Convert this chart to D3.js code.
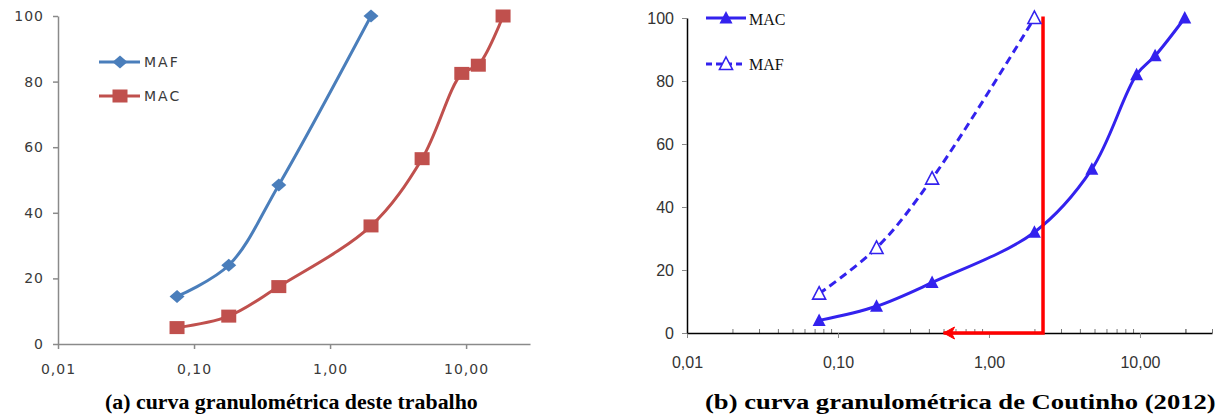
<!DOCTYPE html>
<html>
<head>
<meta charset="utf-8">
<script src="https://cdn.jsdelivr.net/npm/d3@7"></script>
<style>
  body { margin: 0; background: #fff; }
  svg { display: block; }
</style>
</head>
<body>
<svg id="chart" width="1228" height="414"></svg>
<script>
// --- data ---
// (a) this work
const mafA_x = [0.075, 0.18, 0.42, 2.0];
const mafA_y = [14.5, 24, 48.5, 100];
const macA_x = [0.075, 0.18, 0.42, 2.0, 4.75, 9.3, 12.3, 18.7];
const macA_y = [5, 8.5, 17.5, 36, 56.5, 82.5, 85, 100];
// (b) Coutinho (2012)
const macB_x = [0.075, 0.18, 0.42, 2.0, 4.8, 9.5, 12.6, 19.8];
const macB_y = [4, 8.5, 16, 32, 52, 82, 88, 100];
const mafB_x = [0.075, 0.18, 0.42, 2.0];
const mafB_y = [12.5, 27, 49, 100];
// red guide: vertical at d ~ 2.3 mm, arrow back to ~0.5 mm
const guide_x = [2.28, 2.28, 0.5];
const guide_y = [100.5, 0, 0];

const xTicks = [0.01, 0.1, 1, 10];
const yTicks = [0, 20, 40, 60, 80, 100];
const captionA = '(a) curva granulométrica deste trabalho';
const captionB = '(b) curva granulométrica de Coutinho (2012)';

const fmt = d => d3.format('.2f')(d).replace('.', ',');
const zip = (xs, ys) => xs.map((x, i) => [x, ys[i]]);

const svg = d3.select('#chart');

// ================= panel (a) =================
const xA = d3.scaleLog().domain([0.01, 29.5]).range([58, 530]);
const yA = d3.scaleLinear().domain([0, 100]).range([344, 16]);
const gA = svg.append('g');
const axisGrey = '#8a8a8a';
const blueA = '#4a7ebb';
const redA = '#c0504d';

const xAxisA = gA.append('g')
  .attr('transform', `translate(0,${yA(0)})`)
  .call(d3.axisBottom(xA).tickValues(xTicks).tickFormat(fmt).tickSize(5).tickSizeOuter(0));
const yAxisA = gA.append('g')
  .attr('transform', `translate(${xA(0.01)},0)`)
  .call(d3.axisLeft(yA).tickValues(yTicks).tickFormat(d3.format('d')).tickSize(5).tickSizeOuter(0));

[xAxisA, yAxisA].forEach(a => {
  a.select('.domain').attr('stroke', axisGrey).attr('stroke-width', 1.5);
  a.selectAll('.tick line').attr('stroke', axisGrey).attr('stroke-width', 1.5);
  a.selectAll('.tick text')
    .style('font-family', '"DejaVu Sans", Verdana, sans-serif')
    .style('font-size', '14px')
    .style('letter-spacing', '1px')
    .attr('fill', '#3a3a3a');
});
xAxisA.selectAll('.tick text').attr('dy', null).attr('y', 30);
yAxisA.selectAll('.tick text').attr('x', -14);

const lineA = d3.line().x(d => xA(d[0])).y(d => yA(d[1])).curve(d3.curveCatmullRom.alpha(0.5));

gA.append('path').datum(zip(mafA_x, mafA_y))
  .attr('d', lineA).attr('fill', 'none').attr('stroke', blueA).attr('stroke-width', 3);
gA.append('path').datum(zip(macA_x, macA_y))
  .attr('d', lineA).attr('fill', 'none').attr('stroke', redA).attr('stroke-width', 3);

const diamond = 'M0,-6.5L7.5,0L0,6.5L-7.5,0Z';
gA.selectAll('.dia').data(zip(mafA_x, mafA_y)).join('path')
  .attr('d', diamond).attr('fill', blueA)
  .attr('transform', d => `translate(${xA(d[0])},${yA(d[1])})`);
gA.selectAll('.sq').data(zip(macA_x, macA_y)).join('rect')
  .attr('x', d => xA(d[0]) - 7.5).attr('y', d => yA(d[1]) - 6.5)
  .attr('width', 15).attr('height', 13).attr('fill', redA);

// legend (a)
const legA = gA.append('g');
legA.append('line').attr('x1', 99).attr('x2', 140).attr('y1', 62).attr('y2', 62)
  .attr('stroke', blueA).attr('stroke-width', 3);
legA.append('path').attr('d', diamond).attr('fill', blueA).attr('transform', 'translate(120,62)');
legA.append('line').attr('x1', 99).attr('x2', 140).attr('y1', 96).attr('y2', 96)
  .attr('stroke', redA).attr('stroke-width', 3);
legA.append('rect').attr('x', 112.5).attr('y', 89.5).attr('width', 15).attr('height', 13).attr('fill', redA);
legA.selectAll('text').data([['MAF', 67], ['MAC', 101]]).join('text')
  .attr('x', 144).attr('y', d => d[1]).text(d => d[0])
  .style('font-family', '"DejaVu Sans", Verdana, sans-serif')
  .style('font-size', '14px').style('letter-spacing', '2px').attr('fill', '#3a3a3a');

// ================= panel (b) =================
const xB = d3.scaleLog().domain([0.01, 30]).range([687, 1212]);
const yB = d3.scaleLinear().domain([0, 100]).range([333, 18]);
const gB = svg.append('g');
const blueB = '#3322ee';

// minor ticks, pointing up
const minor = [];
[0.01, 0.1, 1, 10].forEach(dec => { for (let k = 2; k <= 9; k++) if (dec * k <= 30) minor.push(dec * k); });
minor.push(20, 30);
gB.append('g')
  .attr('transform', `translate(0,${yB(0)})`)
  .call(d3.axisTop(xB).tickValues(minor).tickFormat('').tickSize(4).tickSizeOuter(0))
  .call(a => a.select('.domain').remove())
  .call(a => a.selectAll('.tick line').attr('stroke', '#777'));

const xAxisB = gB.append('g')
  .attr('transform', `translate(0,${yB(0)})`)
  .call(d3.axisBottom(xB).tickValues(xTicks).tickFormat(fmt).tickSize(5).tickSizeOuter(0));
const yAxisB = gB.append('g')
  .attr('transform', `translate(${xB(0.01)},0)`)
  .call(d3.axisLeft(yB).tickValues(yTicks).tickFormat(d3.format('d')).tickSize(5).tickSizeOuter(0));

[xAxisB, yAxisB].forEach(a => {
  a.select('.domain').attr('stroke', '#000').attr('stroke-width', 1.5);
  a.selectAll('.tick line').attr('stroke', '#888');
  a.selectAll('.tick text')
    .style('font-family', '"Liberation Sans", Arial, sans-serif')
    .style('font-size', '16px')
    .attr('fill', '#333');
});
xAxisB.selectAll('.tick text').attr('dy', null).attr('y', 35);
yAxisB.selectAll('.tick text').attr('x', -13);

const lineB = d3.line().x(d => xB(d[0])).y(d => yB(d[1])).curve(d3.curveCatmullRom.alpha(0.5));

gB.append('path').datum(zip(mafB_x, mafB_y))
  .attr('d', lineB).attr('fill', 'none').attr('stroke', blueB).attr('stroke-width', 3)
  .attr('stroke-dasharray', '8,5');
gB.append('path').datum(zip(macB_x, macB_y))
  .attr('d', lineB).attr('fill', 'none').attr('stroke', blueB).attr('stroke-width', 3);

// red guide with arrow head
const guidePts = zip(guide_x, guide_y);
gB.append('path').datum(guidePts)
  .attr('d', d3.line().x(d => xB(d[0])).y(d => yB(d[1])))
  .attr('fill', 'none').attr('stroke', '#ff0000').attr('stroke-width', 3.5);
const tip = guidePts[2];
gB.append('path')
  .attr('d', 'M0,0L11,-6L8,0L11,6Z')
  .attr('fill', '#ff0000').attr('stroke', '#ff0000').attr('stroke-width', 1)
  .attr('transform', `translate(${xB(tip[0])},${yB(tip[1])})`);

const tri = 'M0,-7L6.5,5.5L-6.5,5.5Z';
gB.selectAll('.tf').data(zip(macB_x, macB_y)).join('path')
  .attr('d', tri).attr('fill', blueB)
  .attr('transform', d => `translate(${xB(d[0])},${yB(d[1])})`);
gB.selectAll('.to').data(zip(mafB_x, mafB_y)).join('path')
  .attr('d', tri).attr('fill', '#fff').attr('stroke', blueB).attr('stroke-width', 1.6)
  .attr('transform', d => `translate(${xB(d[0])},${yB(d[1])})`);

// legend (b)
const legB = gB.append('g');
legB.append('line').attr('x1', 706).attr('x2', 746).attr('y1', 18).attr('y2', 18)
  .attr('stroke', blueB).attr('stroke-width', 3);
legB.append('path').attr('d', tri).attr('fill', blueB).attr('transform', 'translate(726,18)');
legB.append('line').attr('x1', 706).attr('x2', 746).attr('y1', 64).attr('y2', 64)
  .attr('stroke', blueB).attr('stroke-width', 3).attr('stroke-dasharray', '6,4');
legB.append('path').attr('d', tri).attr('fill', '#fff').attr('stroke', blueB).attr('stroke-width', 1.6)
  .attr('transform', 'translate(726,64)');
legB.selectAll('text').data([['MAC', 25], ['MAF', 70]]).join('text')
  .attr('x', 749).attr('y', d => d[1]).text(d => d[0])
  .style('font-family', '"Liberation Serif", "Times New Roman", serif')
  .style('font-size', '16px').attr('fill', '#111');

// ================= captions =================
// the right caption is horizontally stretched in the source, so scale to the measured width
svg.selectAll('.cap').data([[captionA, 105, 373], [captionB, 705, 511]]).join('text')
  .attr('x', 0).attr('y', 0).text(d => d[0])
  .style('font-family', '"Liberation Serif", "Times New Roman", serif')
  .style('font-size', '22px').style('font-weight', 'bold').attr('fill', '#000')
  .attr('transform', function(d) {
    const w = this.getComputedTextLength();
    return `translate(${d[1]},409) scale(${d[2] / w},1)`;
  });
</script>
</body>
</html>
